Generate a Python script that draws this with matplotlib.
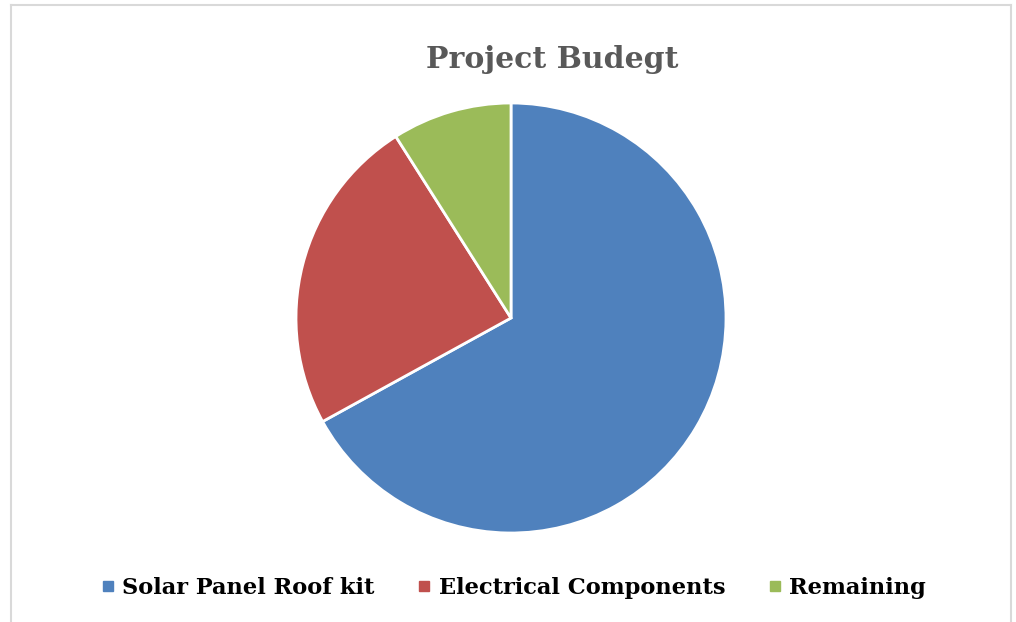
import matplotlib
matplotlib.use("Agg")
import matplotlib.pyplot as plt
from matplotlib.lines import Line2D

categories = ["Solar Panel Roof kit", "Electrical Components", "Remaining"]
values = [67, 24, 9]
colors = ["#4F81BD", "#C0504D", "#9BBB59"]

W, H = 1016, 622
fig = plt.figure(figsize=(W / 100, H / 100), dpi=100)
fig.patch.set_facecolor("white")

# border (left, top, right)
bc = "#D9D9D9"
fig.add_artist(Line2D([11 / W, 11 / W], [0, 1 - 5 / H], color=bc, lw=1.5, transform=fig.transFigure))
fig.add_artist(Line2D([11 / W, 1011 / W], [1 - 5 / H, 1 - 5 / H], color=bc, lw=1.5, transform=fig.transFigure))
fig.add_artist(Line2D([1011 / W, 1011 / W], [0, 1 - 5 / H], color=bc, lw=1.5, transform=fig.transFigure))

cx, cy, r = 511, 318, 215
ax = fig.add_axes([(cx - r) / W, (H - cy - r) / H, 2 * r / W, 2 * r / H])
wedges, _ = ax.pie(values, colors=colors, startangle=90, counterclock=False, radius=1,
                   wedgeprops=dict(edgecolor="white", linewidth=2.0))
for w in wedges:
    w.set_clip_on(False)
ax.set_xlim(-1, 1)
ax.set_ylim(-1, 1)
ax.set_aspect("equal")
ax.axis("off")

fig.text(552 / W, 1 - 60 / H, "Project Budegt", ha="center", va="center",
         fontsize=21.5, fontweight="bold", color="#595959", family="DejaVu Serif")

handles = [Line2D([0], [0], marker="s", linestyle="none", markersize=7.5,
                  markerfacecolor=c, markeredgecolor=c) for c in colors]
fig.legend(handles, categories, loc="center", bbox_to_anchor=(513 / W, 1 - 588 / H),
           ncol=3, frameon=False, handletextpad=0.3, columnspacing=1.85,
           handlelength=0.7, prop=dict(family="DejaVu Serif", weight="bold", size=16.2))

fig.savefig("out.png", dpi=100, facecolor="white")
